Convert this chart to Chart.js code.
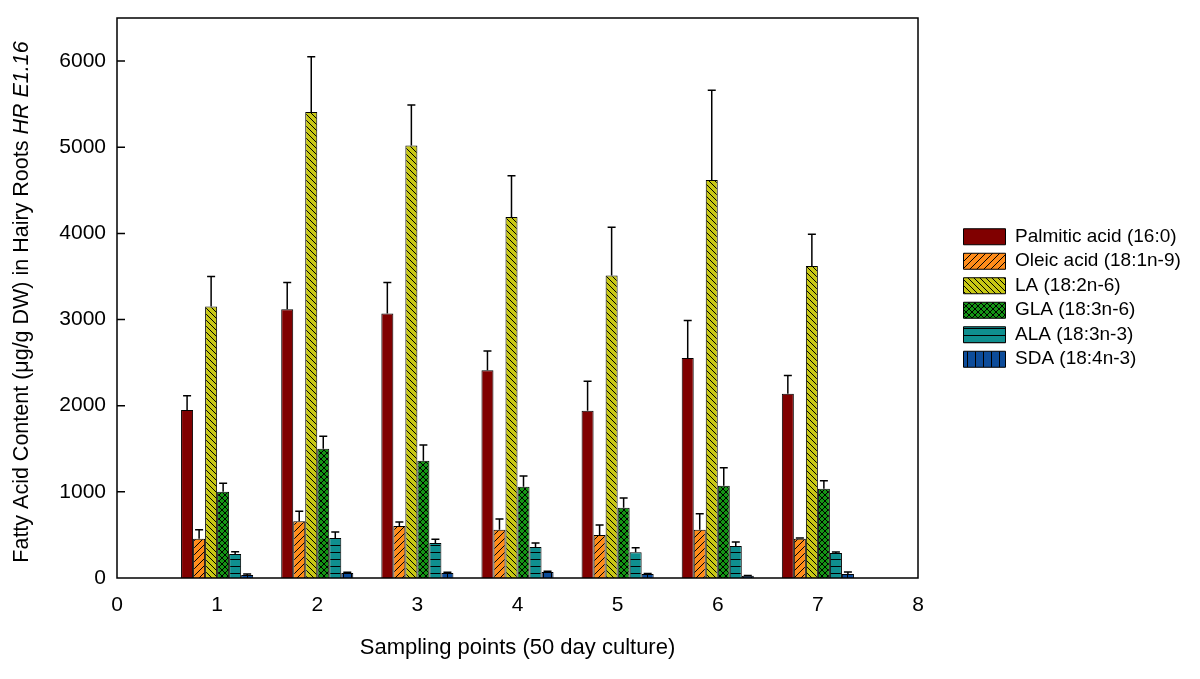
<!DOCTYPE html>
<html lang="en">
<head>
<meta charset="UTF-8" />
<title>Fatty acid content in hairy roots</title>
<script src="https://cdn.jsdelivr.net/npm/chart.js@4.4.0/dist/chart.umd.min.js"></script>
<style>
  html, body { margin: 0; padding: 0; background: #fff; }
</style>
</head>
<body>
<canvas id="chart" width="1200" height="679"></canvas>
<script>
// sampling points on the x axis
const samplePoints = [1, 2, 3, 4, 5, 6, 7]
const xTicks = [0, 1, 2, 3, 4, 5, 6, 7, 8]
const yTicks = [0, 1000, 2000, 3000, 4000, 5000, 6000]

// means (ug/g DW) and upper error bars
const palmitic = [1950, 3120, 3070, 2410, 1940, 2555, 2140]
const palmiticErr = [165, 310, 360, 225, 345, 435, 210]
const oleic = [455, 660, 605, 560, 500, 560, 455]
const oleicErr = [105, 115, 45, 125, 115, 185, 10]
const la = [3150, 5410, 5020, 4190, 3510, 4620, 3620]
const laErr = [350, 640, 470, 480, 560, 1040, 370]
const gla = [1000, 1500, 1360, 1060, 815, 1070, 1035]
const glaErr = [100, 145, 185, 125, 115, 210, 95]
const ala = [280, 465, 405, 360, 300, 370, 290]
const alaErr = [25, 70, 45, 45, 50, 47, 12]
const sda = [35, 58, 58, 70, 47, 25, 47]
const sdaErr = [12, 8, 8, 8, 6, 5, 23]

const seriesNames = ['Palmitic acid (16:0)', 'Oleic acid (18:1n-9)', 'LA (18:2n-6)',
  'GLA (18:3n-6)', 'ALA (18:3n-3)', 'SDA (18:4n-3)']

const FONT = '"Liberation Sans", Arial, sans-serif'

// hatch fills like the original figure
function hatch(bg, kind, s) {
  const c = document.createElement('canvas')
  c.width = s
  c.height = s
  const g = c.getContext('2d')
  g.fillStyle = bg
  g.fillRect(0, 0, s, s)
  g.strokeStyle = '#000'
  g.lineWidth = 1
  g.beginPath()
  if (kind === 'up' || kind === 'cross') {
    g.moveTo(0, s); g.lineTo(s, 0)
    g.moveTo(-1, 1); g.lineTo(1, -1)
    g.moveTo(s - 1, s + 1); g.lineTo(s + 1, s - 1)
  }
  if (kind === 'down' || kind === 'cross') {
    g.moveTo(0, 0); g.lineTo(s, s)
    g.moveTo(s - 1, -1); g.lineTo(s + 1, 1)
    g.moveTo(-1, s - 1); g.lineTo(1, s + 1)
  }
  if (kind === 'horiz') { g.moveTo(0, s - 0.5); g.lineTo(s, s - 0.5) }
  if (kind === 'vert') { g.moveTo(s - 0.5, 0); g.lineTo(s - 0.5, s) }
  g.stroke()
  return g.createPattern(c, 'repeat')
}

const fills = [
  '#800000',
  hatch('#ff8c1a', 'up', 7),
  hatch('#c8c814', 'down', 6),
  hatch('#149414', 'cross', 6),
  hatch('#0f8f8f', 'horiz', 7),
  hatch('#0d4c9a', 'vert', 8),
]

const values = [palmitic, oleic, la, gla, ala, sda]
const errs = [palmiticErr, oleicErr, laErr, glaErr, alaErr, sdaErr]

const datasets = values.map((v, i) => ({
  label: seriesNames[i],
  data: samplePoints.map((x, j) => ({ x: x, y: v[j] })),
  errors: errs[i],
  backgroundColor: fills[i],
  borderColor: '#000',
  borderWidth: 1,
  categoryPercentage: 0.72,
  barPercentage: 1,
}))

const errorBars = {
  id: 'errorBars',
  afterDatasetsDraw(chart) {
    const ctx = chart.ctx
    const y = chart.scales.y
    ctx.save()
    ctx.strokeStyle = '#000'
    ctx.lineWidth = 1.5
    chart.data.datasets.forEach((ds, i) => {
      chart.getDatasetMeta(i).data.forEach((bar, j) => {
        const top = y.getPixelForValue(ds.data[j].y + ds.errors[j])
        ctx.beginPath()
        ctx.moveTo(bar.x, bar.y)
        ctx.lineTo(bar.x, top)
        ctx.moveTo(bar.x - 4, top)
        ctx.lineTo(bar.x + 4, top)
        ctx.stroke()
      })
    })
    ctx.restore()
  }
}

const frame = {
  id: 'frame',
  afterInit(chart) {
    // fixed width for the legend column on the right
    const lg = chart.legend
    const fit = lg.fit.bind(lg)
    lg.fit = function () { fit(); this.width = 282 }
  },
  afterLayout(chart) {
    // push the legend items away from the plot box
    const lg = chart.legend
    lg.left = chart.chartArea.right + 40
    lg.right = lg.left + lg.width
  },
  afterDraw(chart) {
    const ctx = chart.ctx
    const a = chart.chartArea
    const y = chart.scales.y
    ctx.save()
    ctx.strokeStyle = '#000'
    ctx.lineWidth = 1.5
    ctx.strokeRect(a.left, a.top, a.right - a.left, a.bottom - a.top)
    ctx.beginPath()
    y.ticks.forEach(t => {
      if (t.value === 0) return
      const py = y.getPixelForValue(t.value)
      ctx.moveTo(a.left, py)
      ctx.lineTo(a.left + 8, py)
    })
    ctx.stroke()

    // y title, last part in italics
    const partA = 'Fatty Acid Content (\u03bcg/g DW) in Hairy Roots '
    const partB = 'HR E1.16'
    const size = '21.5px '
    ctx.translate(22, (a.top + a.bottom) / 2 + 4)
    ctx.rotate(-Math.PI / 2)
    ctx.fillStyle = '#000'
    ctx.textBaseline = 'middle'
    ctx.font = size + FONT
    const wa = ctx.measureText(partA).width
    ctx.font = 'italic ' + size + FONT
    const wb = ctx.measureText(partB).width
    const start = -(wa + wb) / 2
    ctx.font = size + FONT
    ctx.fillText(partA, start, 0)
    ctx.font = 'italic ' + size + FONT
    ctx.fillText(partB, start + wa, 0)
    ctx.restore()
  }
}

new Chart(document.getElementById('chart'), {
  type: 'bar',
  data: { datasets: datasets },
  plugins: [errorBars, frame],
  options: {
    responsive: false,
    animation: false,
    layout: { padding: { top: 18, right: 0, bottom: 0, left: 0 } },
    scales: {
      x: {
        type: 'linear',
        min: 0,
        max: 8,
        offset: false,
        grid: { display: false, drawTicks: false },
        border: { display: false },
        afterBuildTicks(scale) { scale.ticks = xTicks.map(v => ({ value: v })) },
        ticks: { padding: 15, color: '#000', font: { family: FONT, size: 21 } },
        title: {
          display: true,
          text: 'Sampling points (50 day culture)',
          color: '#000',
          font: { family: FONT, size: 22 },
          padding: { top: 0, bottom: 18 }
        },
        afterFit(scale) {
          scale.height = 101
          scale.paddingLeft = 0
          scale.paddingRight = 0
        }
      },
      y: {
        min: 0,
        max: 6500,
        grid: { display: false, drawTicks: false },
        border: { display: false },
        afterBuildTicks(scale) { scale.ticks = yTicks.map(v => ({ value: v })) },
        ticks: {
          padding: 11,
          color: '#000',
          font: { family: FONT, size: 21 },
          callback: v => String(v)
        },
        afterFit(scale) {
          scale.width = 117
          scale.paddingTop = 0
          scale.paddingBottom = 0
        }
      }
    },
    plugins: {
      tooltip: { enabled: false },
      legend: {
        position: 'right',
        align: 'center',
        fullSize: false,
        labels: {
          boxWidth: 42,
          boxHeight: 16,
          padding: 5.5,
          color: '#000',
          font: { family: FONT, size: 19 }
        }
      }
    }
  }
})
</script>
</body>
</html>
